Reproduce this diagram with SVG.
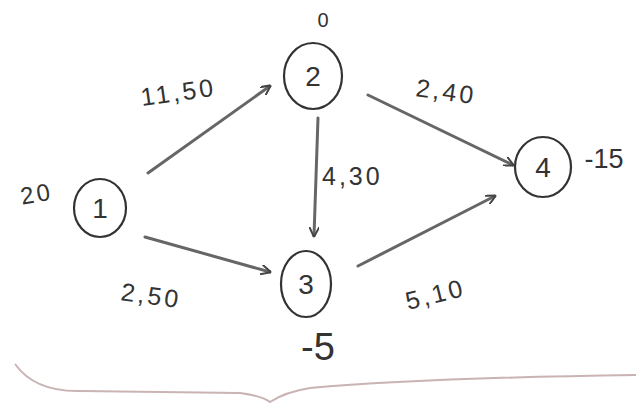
<svg xmlns="http://www.w3.org/2000/svg" width="636" height="413" viewBox="0 0 636 413">
<defs>
<marker id="ah" viewBox="0 0 10 10" refX="9" refY="5" markerWidth="10" markerHeight="10" markerUnits="userSpaceOnUse" orient="auto">
<path d="M0,0 L10,5 L0,10" fill="none" stroke="#444" stroke-width="2"/>
</marker>
<style>
.node ellipse{fill:none;stroke:#333;stroke-width:2.2}
.node text,.lbl{font-family:"Liberation Sans",Arial,sans-serif;fill:#333}
.node text{font-size:28px;text-anchor:middle}
.lbl{font-size:25px;letter-spacing:3px}
.edge{fill:none;stroke:#666;stroke-width:3;stroke-linecap:round}
</style>
</defs>
<rect width="636" height="413" fill="#fff"/>
<g id="connectors">
<line class="edge" x1="148" y1="173" x2="270" y2="86" marker-end="url(#ah)"/>
<line class="edge" x1="145" y1="237" x2="270" y2="272" marker-end="url(#ah)"/>
<line class="edge" x1="318" y1="118" x2="314" y2="236" stroke="#333" marker-end="url(#ah)"/>
<line class="edge" x1="368" y1="95" x2="513" y2="165" marker-end="url(#ah)"/>
<line class="edge" x1="358" y1="266" x2="495" y2="196" marker-end="url(#ah)"/>
<text class="lbl" x="142" y="106" transform="rotate(-8 142 106)">11,50</text>
<text class="lbl" x="415" y="96" transform="rotate(8 415 96)">2,40</text>
<text class="lbl" x="322" y="185">4,30</text>
<text class="lbl" x="120" y="300" transform="rotate(8 120 300)">2,50</text>
<text class="lbl" x="408" y="310" transform="rotate(-14 408 310)">5,10</text>
</g>
<g id="node1" class="node">
<ellipse cx="100" cy="208" rx="26" ry="29"/>
<text x="100" y="218">1</text>
<text x="38" y="202" style="font-size:24px;letter-spacing:3px" transform="rotate(-10 38 202)">20</text>
</g>
<g id="node2" class="node">
<ellipse cx="313" cy="76" rx="29" ry="33"/>
<text x="313" y="86">2</text>
<text x="323" y="27" style="font-size:20px">0</text>
</g>
<g id="node3" class="node">
<ellipse cx="306" cy="284" rx="25" ry="33"/>
<text x="306" y="294">3</text>
<text x="318" y="360" style="font-size:38px">-5</text>
</g>
<g id="node4" class="node">
<ellipse cx="543" cy="167" rx="28" ry="30"/>
<text x="543" y="177">4</text>
<text x="604" y="168" style="font-size:27px">-15</text>
</g>
<path d="M15,364 Q35,392 80,391 L240,393 Q262,396 270,402 Q285,392 310,388 Q420,378 636,375" fill="none" stroke="#c9b3b3" stroke-width="2"/>
</svg>
